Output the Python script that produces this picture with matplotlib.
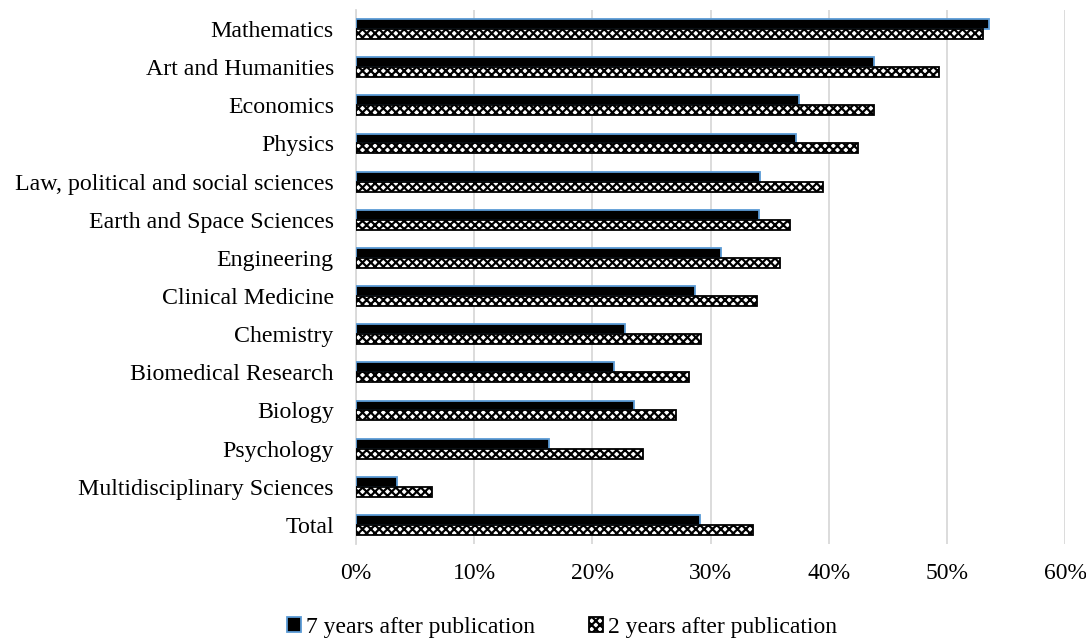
import numpy as np
import matplotlib
matplotlib.use("Agg")
import matplotlib.pyplot as plt
from matplotlib.ticker import PercentFormatter

categories = ["Mathematics", "Art and Humanities", "Economics", "Physics",
              "Law, political and social sciences", "Earth and Space Sciences",
              "Engineering", "Clinical Medicine", "Chemistry", "Biomedical Research",
              "Biology", "Psychology", "Multidisciplinary Sciences", "Total"]
seven_years = [53.6, 43.8, 37.5, 37.2, 34.2, 34.1, 30.9, 28.7, 22.8, 21.8, 23.5, 16.3, 3.5, 29.1]
two_years = [53.1, 49.3, 43.8, 42.5, 39.5, 36.7, 35.9, 33.9, 29.2, 28.2, 27.1, 24.3, 6.4, 33.6]

plt.rcParams["font.family"] = ["Liberation Serif", "DejaVu Serif"]
plt.rcParams["hatch.linewidth"] = 1.6

fig = plt.figure(figsize=(10.86, 6.39), dpi=100)
ax = fig.add_axes([0.3278, 0.1487, 0.6529, 0.8357])

y = np.arange(len(categories))
h = 0.26
ax.barh(y - h / 2, seven_years, height=h, color="black", edgecolor="#5b9bd5",
        linewidth=1.3, label="7 years after publication", zorder=3)
ax.barh(y + h / 2, two_years, height=h, color="white", edgecolor="black",
        hatch="xxxx", linewidth=1.3, label="2 years after publication", zorder=3)

ax.set_yticks(y)
ax.set_yticklabels(categories, fontsize=17.2)
ax.set_ylim(len(categories) - 0.5, -0.5)
ax.set_xlim(0, 60)
ax.set_xticks(np.arange(0, 61, 10))
ax.xaxis.set_major_formatter(PercentFormatter(decimals=0))
ax.tick_params(axis="x", labelsize=17, length=0, pad=14)
ax.tick_params(axis="y", length=0, pad=16)
ax.grid(axis="x", color="#d9d9d9", linewidth=1.3, zorder=0)
for s in ["top", "right", "bottom"]:
    ax.spines[s].set_visible(False)
ax.spines["left"].set_color("#d9d9d9")
ax.spines["left"].set_linewidth(1.3)

fig.legend(loc="center", bbox_to_anchor=(0.5175, 0.018), ncol=2, frameon=False,
           fontsize=17, handlelength=0.6, handleheight=0.6, handletextpad=0.2,
           columnspacing=2.3)

fig.savefig("out.png", dpi=100)
